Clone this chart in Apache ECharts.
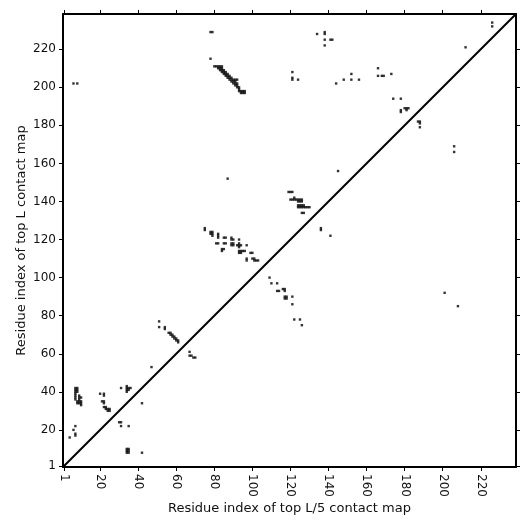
<!DOCTYPE html>
<html>
<head>
<meta charset="utf-8">
<script src="https://cdn.jsdelivr.net/npm/echarts@6/dist/echarts.min.js"></script>
<style>
  html, body { margin: 0; padding: 0; background: #fff; }
  #chart { width: 531px; height: 531px; }
</style>
</head>
<body>
<div id="chart"></div>
<script>
// sequence length and tick values
const seqLength = 238;
const tickValues = [1, 20, 40, 60, 80, 100, 120, 140, 160, 180, 200, 220];

// contacts above the diagonal, [i, j]
const upperContacts = [
    [78, 229], [79, 229], [78, 215], [6, 202], [8, 202],
    // anti-parallel band around 80-96 / 197-211
    [80, 211], [81, 211], [82, 211], [83, 211], [84, 211],
    [82, 210], [83, 210], [84, 210],
    [83, 209], [84, 209], [85, 209],
    [84, 208], [85, 208], [86, 208],
    [85, 207], [86, 207], [87, 207],
    [86, 206], [87, 206], [88, 206],
    [87, 205], [88, 205], [89, 205],
    [88, 204], [89, 204], [90, 204], [91, 204], [92, 204],
    [89, 203], [90, 203], [91, 203],
    [90, 202], [91, 202], [92, 202],
    [91, 201], [92, 201], [92, 200], [93, 200], [93, 199],
    [93, 198], [94, 198], [95, 198], [96, 198],
    [94, 197], [95, 197], [96, 197],
    [134, 228], [138, 229], [138, 228], [138, 225], [141, 225], [142, 225], [138, 222],
    [121, 208], [121, 205], [121, 204], [124, 204], [144, 202], [148, 204],
    [152, 207], [152, 204], [156, 204], [226, 234], [226, 232], [212, 221],
    [166, 210], [166, 206], [168, 206], [169, 206], [173, 207],
    [174, 194], [178, 194], [178, 188], [178, 187],
    [180, 189], [181, 189], [182, 189], [181, 188],
    [187, 182], [188, 182], [188, 181], [188, 179],
    [206, 169], [206, 166],
    [87, 152], [145, 156],
    [119, 145], [120, 145], [121, 145], [122, 142],
    [120, 141], [121, 141], [122, 141], [123, 141], [124, 141], [125, 141], [126, 141],
    [124, 140], [125, 140], [126, 140],
    [124, 138], [125, 138], [126, 138], [127, 138],
    [124, 137], [125, 137], [126, 137], [127, 137], [128, 137], [129, 137], [130, 137],
    [126, 134], [127, 134],
    // band around 75-103 / 109-126
    [75, 126], [75, 125], [78, 124], [79, 124], [78, 123], [79, 123], [79, 122],
    [82, 123], [82, 122], [82, 121], [85, 121], [86, 121],
    [89, 121], [89, 120], [90, 120], [93, 120],
    [81, 118], [82, 118], [85, 118], [86, 118],
    [89, 118], [90, 118], [89, 117], [90, 117],
    [92, 117], [93, 117], [94, 117], [93, 118], [93, 116], [97, 117],
    [84, 115], [85, 115], [84, 114],
    [93, 114], [94, 114], [95, 114], [96, 114], [93, 113], [94, 113],
    [99, 113], [100, 113], [97, 110], [97, 109],
    [100, 110], [101, 110], [101, 109], [102, 109], [103, 109],
    // band around 51-61 / 66-77
    [51, 77], [51, 74], [54, 74], [54, 73],
    [56, 71], [57, 71], [57, 70], [58, 70], [58, 69], [59, 69],
    [59, 68], [60, 68], [60, 67], [61, 67], [61, 66],
    [47, 53],
    // N-terminal cluster
    [7, 42], [8, 42], [7, 41], [8, 41], [7, 40], [8, 40],
    [7, 39], [7, 38], [7, 37], [7, 36], [9, 38], [9, 37], [10, 37], [9, 36],
    [8, 35], [9, 35], [10, 35], [8, 34], [9, 34], [10, 34], [10, 33],
    [20, 39], [22, 39], [22, 38], [21, 35], [22, 35], [22, 34],
    [22, 32], [23, 32], [23, 31], [24, 31], [25, 31], [24, 30], [25, 30],
    [31, 42], [34, 43], [34, 42], [35, 42], [36, 42], [34, 41], [35, 41], [34, 40],
    [7, 22], [6, 20], [7, 18], [7, 17], [4, 16]
];

// contacts below the diagonal, [i, j]
const lowerContacts = [
    [201, 92], [208, 85],
    [136, 126], [136, 125], [141, 122],
    [109, 100], [110, 97], [113, 97], [113, 93], [114, 93],
    [116, 94], [117, 94], [117, 93],
    [117, 90], [118, 90], [117, 89], [118, 89], [121, 90], [121, 86],
    [122, 78], [125, 78], [126, 75],
    [67, 61], [67, 59], [68, 59], [69, 58], [70, 58],
    [42, 34], [42, 8],
    [34, 10], [35, 10], [34, 9], [35, 9], [34, 8], [35, 8],
    [30, 24], [31, 24], [31, 22], [35, 22]
];

const diagonal = [[0.5, 0.5], [seqLength + 0.5, seqLength + 0.5]];

const fontFamily = '"DejaVu Sans", sans-serif';
const black = '#000';
const textColor = '#111';

const chart = echarts.init(document.getElementById('chart'), null, { renderer: 'canvas' });

function baseAxis(extra) {
    return Object.assign({
        type: 'value',
        min: 0.5,
        max: seqLength + 0.5,
        splitLine: { show: false },
        axisLine: { show: true, onZero: false, lineStyle: { color: black, width: 2 } },
        axisTick: {
            show: true,
            inside: false,
            length: 4,
            lineStyle: { color: black, width: 1 },
            customValues: tickValues
        },
        axisLabel: {
            show: true,
            customValues: tickValues,
            color: textColor,
            fontFamily: fontFamily,
            fontSize: 12
        }
    }, extra);
}

const option = {
    animation: false,
    backgroundColor: '#fff',
    grid: {
        left: 63,
        top: 14,
        right: 15,
        bottom: 64
    },
    xAxis: [
        baseAxis({
            position: 'bottom',
            name: 'Residue index of top L/5 contact map',
            nameLocation: 'middle',
            nameGap: 35,
            nameMoveOverlap: false,
            nameTextStyle: { fontFamily: fontFamily, fontSize: 13, color: textColor },
            axisLabel: {
                show: true,
                customValues: tickValues,
                color: textColor,
                fontFamily: fontFamily,
                fontSize: 12,
                rotate: -90,
                margin: 7
            }
        }),
        baseAxis({ position: 'top', axisLabel: { show: false } })
    ],
    yAxis: [
        baseAxis({
            position: 'left',
            name: 'Residue index of top L contact map',
            nameLocation: 'middle',
            nameGap: 35,
            nameMoveOverlap: false,
            nameTextStyle: { fontFamily: fontFamily, fontSize: 13, color: textColor },
            axisLabel: {
                show: true,
                customValues: tickValues,
                color: textColor,
                fontFamily: fontFamily,
                fontSize: 12,
                margin: 7
            }
        }),
        baseAxis({ position: 'right', axisLabel: { show: false } })
    ],
    series: [
        {
            type: 'line',
            data: diagonal,
            symbol: 'none',
            lineStyle: { color: black, width: 2 },
            silent: true
        },
        {
            type: 'scatter',
            data: upperContacts,
            symbol: 'rect',
            symbolSize: 2.4,
            itemStyle: { color: black }
        },
        {
            type: 'scatter',
            data: lowerContacts,
            symbol: 'rect',
            symbolSize: 2.4,
            itemStyle: { color: black }
        }
    ]
};

chart.setOption(option);
</script>
</body>
</html>
